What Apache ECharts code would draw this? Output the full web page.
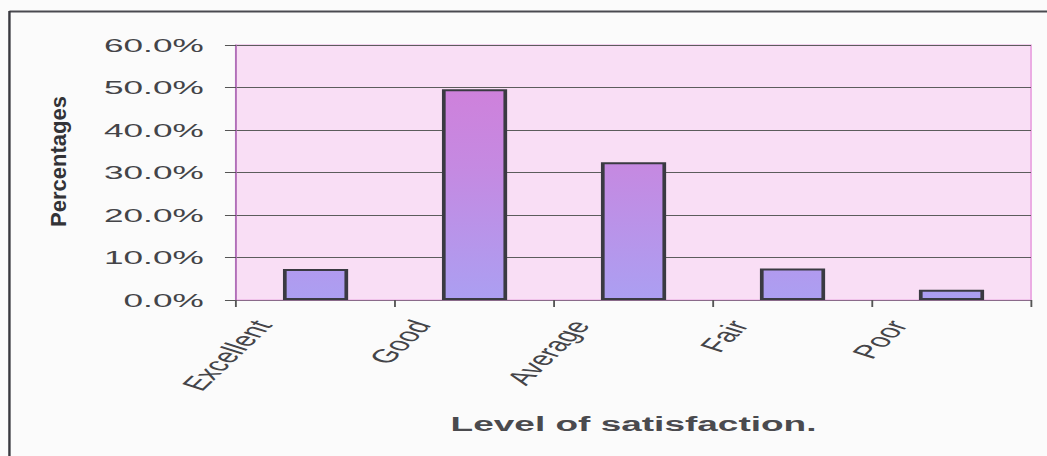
<!DOCTYPE html>
<html>
<head>
<meta charset="utf-8">
<script src="https://cdn.jsdelivr.net/npm/echarts@6/dist/echarts.min.js"></script>
<style>
  html, body { margin: 0; padding: 0; background: #fbfbfb; overflow: hidden; }
  #wrap { width: 1047px; height: 456px; overflow: hidden; position: relative; }
  /* the chart is laid out narrow and then widened, giving the broad lettering */
  #chart { width: 566px; height: 456px; transform: scaleX(1.85); transform-origin: 0 0; }
</style>
</head>
<body>
<div id="wrap"><div id="chart"></div></div>
<script>
const categories = ['Excellent', 'Good', 'Average', 'Fair', 'Poor'];
const percentages = [7.3, 49.6, 32.4, 7.4, 2.4];
const yTickValues = [0, 10, 20, 30, 40, 50, 60];
const xAxisTitle = 'Level of satisfaction.';
const yAxisTitle = 'Percentages';

const chart = echarts.init(document.getElementById('chart'), null, { renderer: 'svg' });

const barFill = new echarts.graphic.LinearGradient(0, 45, 0, 300, [
  { offset: 0, color: '#d47cd8' },
  { offset: 0.5, color: '#c48ae2' },
  { offset: 1, color: '#ab9ff2' }
], true);

// rotated category names sit a little before their tick, as in office charts
const labelTail = '\u00a0\u00a0\u00a0\u00a0\u00a0';

chart.setOption({
  animation: false,
  backgroundColor: 'transparent',
  textStyle: { fontFamily: 'Liberation Sans, Arial, sans-serif' },
  grid: {
    left: 127.6, right: 8.7, top: 45, bottom: 156,
    show: true,
    backgroundColor: '#f9def5',
    borderColor: '#eaa8e2',
    borderWidth: 1
  },
  xAxis: {
    type: 'category',
    data: categories,
    boundaryGap: true,
    name: xAxisTitle,
    nameLocation: 'middle',
    nameGap: 114,
    nameMoveOverlap: false,
    nameTextStyle: { fontSize: 20, fontWeight: 'bold', color: '#4a4a4e' },
    axisLine: { show: true, lineStyle: { color: '#8a6a8a', width: 1 } },
    axisTick: { show: true, alignWithLabel: false, length: 7, lineStyle: { color: '#555', width: 1 } },
    axisLabel: {
      interval: 0,
      rotate: 60,
      margin: 8,
      fontSize: 19,
      lineHeight: 36,
      color: '#444448',
      verticalAlign: 'bottom',
      formatter: function (v) { return v + labelTail; }
    },
    splitLine: { show: false }
  },
  yAxis: {
    type: 'value',
    min: 0,
    max: 60,
    interval: 10,
    axisLine: { show: true, lineStyle: { color: '#b070b8', width: 1 } },
    axisTick: { show: true, length: 6, lineStyle: { color: '#555', width: 1 } },
    axisLabel: {
      margin: 17.5,
      fontSize: 19,
      color: '#444448',
      formatter: function (v) { return yTickValues.indexOf(v) >= 0 ? v.toFixed(1) + '%' : ''; }
    },
    splitLine: { show: true, lineStyle: { color: '#5c5c5c', width: 1 } }
  },
  series: [{
    type: 'bar',
    data: percentages,
    barWidth: '41%',
    itemStyle: { color: barFill, borderColor: '#3a3a42', borderWidth: 2 }
  }],
  graphic: [
    {
      type: 'text',
      x: 31.4, y: 161.5,
      rotation: Math.PI / 2,
      scaleX: 1.1, scaleY: 0.6,
      style: {
        text: yAxisTitle,
        align: 'center', verticalAlign: 'middle',
        fontSize: 20, fontWeight: 'bold',
        fontFamily: 'Liberation Sans, Arial, sans-serif',
        fill: '#333337'
      }
    },
    {
      type: 'line',
      shape: { x1: 5.1, y1: 11.5, x2: 566, y2: 11.5 },
      style: { stroke: '#4a4a50', lineWidth: 2 }
    },
    {
      type: 'line',
      shape: { x1: 5.1, y1: 11, x2: 5.1, y2: 456 },
      style: { stroke: '#3a3a40', lineWidth: 1.3 }
    }
  ]
});
</script>
</body>
</html>
